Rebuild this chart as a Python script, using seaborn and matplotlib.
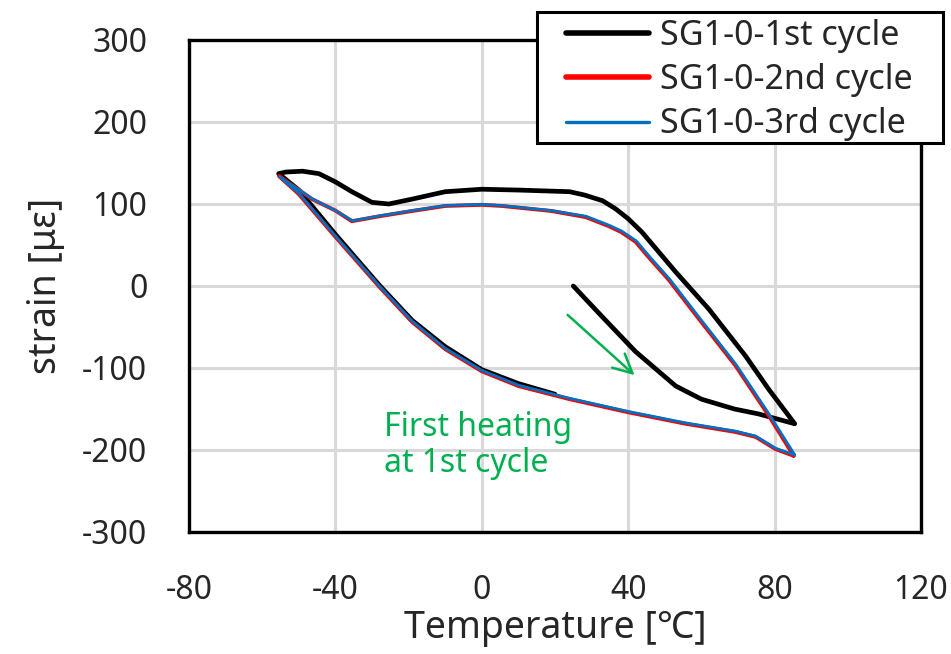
import matplotlib
matplotlib.use("Agg")
import matplotlib.pyplot as plt
from matplotlib.patches import Rectangle
import seaborn as sns
import pandas as pd

# 1st cycle: first heating from 25 degC, cooling along the upper branch, then heating again
temp_c1 = [25, 32.8, 42, 47.5, 53, 60, 69, 75.6, 85.5,
           78.4, 72, 62, 53, 43.7, 40, 36.6, 33, 28, 24, 10, 0, -10, -19, -25.4, -30, -35.5,
           -40, -44.5, -49, -53.5, -55.5,
           -50, -40, -28, -19, -10, 0, 10, 20]
strain_c1 = [0, -37, -80, -101, -122, -138, -150, -156, -168,
             -126, -85, -28, 17, 66, 82, 94, 104, 111, 115, 117, 118, 115, 106, 100, 102, 115,
             127, 137, 140, 139, 137,
             117, 63, 1, -42, -74, -102, -119, -132]

# 2nd cycle
temp_c2 = [85.2, 78.4, 69.3, 60, 51, 46, 42, 38, 34.7, 28.4, 19, 5.5, 0, -10, -19, -28, -35.5,
           -40, -46.4, -55.4,
           -50, -40, -28, -19, -10, 0, 10, 24, 40, 55.7, 69.3, 74.8, 80.3, 85.2]
strain_c2 = [-207, -158, -97, -44, 8, 33, 54, 66, 73, 84, 91.5, 97.6, 99, 97.6, 91.5, 85, 79,
             92, 106, 134,
             112, 60, -1, -44, -77, -104, -122, -138, -154, -168, -178, -184, -199, -207]

# 3rd cycle
temp_c3 = [85.5, 78.6, 69.5, 60.2, 51.2, 46.2, 42.2, 38.2, 34.8, 28.5, 19, 5.5, 0, -10, -19, -28, -35.3,
           -40, -46.2, -55.2,
           -50, -40, -28, -19, -10, 0, 10, 24, 40, 55.7, 69.3, 74.8, 80.3, 85.5]
strain_c3 = [-206, -157, -96, -43, 9, 34, 55, 67, 74, 85, 92, 98, 99.5, 98, 92, 85.5, 79.5,
             92, 106, 133,
             113, 61, 0, -43, -76, -103, -121, -137, -153, -167, -177, -183, -198, -206]

labels = ["SG1-0-1st cycle", "SG1-0-2nd cycle", "SG1-0-3rd cycle"]
colors = ["#000000", "#FF0000", "#0070C0"]
widths = [3.4, 2.8, 2.0]

x_ticks = [-80, -40, 0, 40, 80, 120]
y_ticks = [-300, -200, -100, 0, 100, 200, 300]

sns.set_style("white")
plt.rcParams["font.family"] = ["Noto Sans", "Noto Sans CJK JP", "DejaVu Sans"]
plt.rcParams["axes.unicode_minus"] = False
text_color = "#262626"

W, H = 951, 654
fig = plt.figure(figsize=(W / 100, H / 100), dpi=100)
ax = fig.add_axes([189 / W, 1 - 532 / H, (921 - 189) / W, (532 - 40) / H])

series = [(temp_c1, strain_c1), (temp_c2, strain_c2), (temp_c3, strain_c3)]
for (t, s), lab, col, lw in zip(series, labels, colors, widths):
    df = pd.DataFrame({"Temperature": t, "strain": s})
    sns.lineplot(data=df, x="Temperature", y="strain", sort=False, estimator=None,
                 color=col, linewidth=lw, label=lab, ax=ax, solid_joinstyle="round",
                 solid_capstyle="round")

ax.set_xlim(-80, 120)
ax.set_ylim(-300, 300)
ax.set_xticks(x_ticks)
ax.set_yticks(y_ticks)
ax.grid(True, color="#D9D9D9", linewidth=2.2)
ax.set_axisbelow(True)
for sp in ax.spines.values():
    sp.set_color("black")
    sp.set_linewidth(2.4)
ax.tick_params(axis="both", length=0, labelsize=23, colors=text_color)
ax.tick_params(axis="x", pad=30)
ax.tick_params(axis="y", pad=30)
ax.set_xlabel("Temperature [℃]", fontsize=27, color=text_color, labelpad=2)
ax.set_ylabel("strain [με]", fontsize=27, color=text_color, labelpad=12)

# annotation for the first heating path
ax.annotate("", xy=(42.3, -111), xytext=(22.9, -33),
            arrowprops=dict(arrowstyle="->", color="#00B050", lw=1.8,
                            mutation_scale=34))
ax.text(-26.8, -153, "First heating\nat 1st cycle", color="#00B050", fontsize=23,
        ha="left", va="top", linespacing=1.12)

# legend box, overlapping the top-right corner of the plot frame
handles, leg_labels = ax.get_legend_handles_labels()
ax.get_legend().remove()
box = Rectangle((537 / W, 1 - 143 / H), (943 - 537) / W, (143 - 12) / H,
                transform=fig.transFigure, facecolor="white", edgecolor="black",
                linewidth=2.2, zorder=3)
fig.patches.append(box)
leg = fig.legend(handles, leg_labels, loc="upper left",
                 bbox_to_anchor=(566 / W, 1 - 19 / H), fontsize=24.5, frameon=False,
                 handlelength=2.45, handletextpad=0.3, labelspacing=0.3,
                 borderpad=0, borderaxespad=0)
leg.set_zorder(4)
for txt in leg.get_texts():
    txt.set_color(text_color)
for line, lw in zip(leg.get_lines(), [4.0, 4.0, 2.4]):
    line.set_linewidth(lw)

fig.savefig("out.png", dpi=100)
